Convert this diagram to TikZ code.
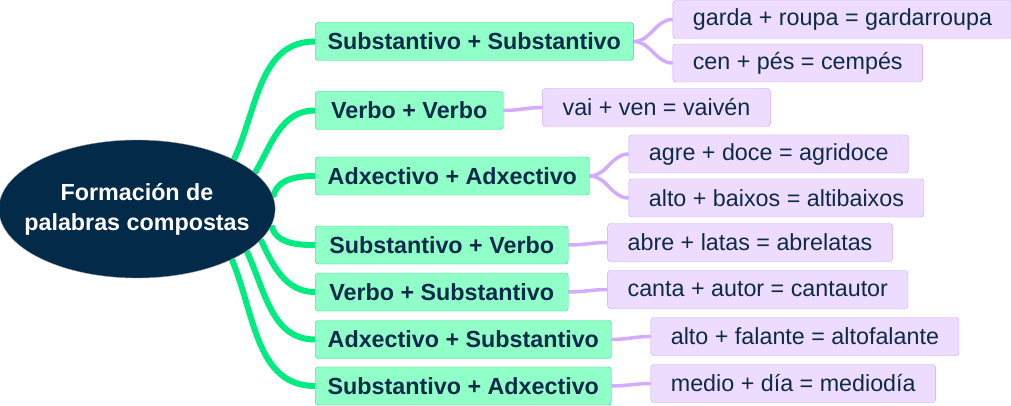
\documentclass[tikz,border=0pt]{standalone}
\usepackage{fontspec}
\setmainfont{Liberation Sans}
\usetikzlibrary{shapes.geometric, positioning, backgrounds}
\definecolor{rootblue}{HTML}{032A49}
\definecolor{inkblue}{HTML}{0D2A4B}
\definecolor{mintfill}{HTML}{90FFC8}
\definecolor{mintedge}{HTML}{22DD88}
\definecolor{mintline}{HTML}{00EC80}
\definecolor{lilacfill}{HTML}{EEDCFF}
\definecolor{lilacedge}{HTML}{CDA3F9}
\definecolor{lilacline}{HTML}{D5ABFF}
\newcommand{\mapfont}{\fontsize{23.3}{30}\selectfont}
\tikzstyle{root} = [ellipse, draw=gray!80, fill=rootblue, text=white,
    font=\mapfont\bfseries, align=center, minimum width=276pt, minimum height=138pt,
    inner xsep=-15pt, inner ysep=0pt]
\tikzstyle{rule} = [rectangle, draw=mintedge, fill=mintfill, rounded corners=3pt,
    text=inkblue, font=\mapfont\bfseries, minimum height=38pt, inner xsep=12.5pt, anchor=west]
\tikzstyle{word} = [rectangle, draw=lilacedge, fill=lilacfill, rounded corners=3pt,
    text=inkblue, font=\mapfont, minimum height=38pt, inner xsep=20pt]
\tikzstyle{branch} = [draw=mintline, line width=6pt]
\tikzstyle{twig} = [draw=lilacline, line width=3.5pt]

\begin{document}
\begin{tikzpicture}[x=1pt, y=1pt, node distance=39pt]
    \useasboundingbox (0,0) rectangle (1011,-406);
    % Nodes
    \node [root] (root) at (137,-209) {Formación de\\palabras compostas};
    \node [rule] (ss) at (315,-41.5) {Substantivo + Substantivo};
    \node [rule, minimum width=188pt] (vv) at (315,-110.5) {Verbo + Verbo};
    \node [rule] (aa) at (315,-176) {Adxectivo + Adxectivo};
    \node [rule, minimum width=253pt] (sv) at (315,-245) {Substantivo + Verbo};
    \node [rule, minimum width=253pt] (vs) at (315,-292) {Verbo + Substantivo};
    \node [rule] (as) at (315,-339.5) {Adxectivo + Substantivo};
    \node [rule] (sa) at (315,-386) {Substantivo + Adxectivo};

    % Examples
    \node [word, right=of ss, yshift=22pt] (garda) {garda + roupa = gardarroupa};
    \node [word, right=of ss, yshift=-21.5pt] (cen) {cen + pés = cempés};
    \node [word, right=of vv, yshift=3pt] (vai) {vai + ven = vaivén};
    \node [word, right=of aa, yshift=22pt] (agre) {agre + doce = agridoce};
    \node [word, right=of aa, yshift=-22pt] (baixos) {alto + baixos = altibaixos};
    \node [word, right=of sv, yshift=2.5pt] (abre) {abre + latas = abrelatas};
    \node [word, right=of vs, yshift=2.5pt] (canta) {canta + autor = cantautor};
    \node [word, right=of as, yshift=3pt] (falante) {alto + falante = altofalante};
    \node [word, right=of sa, yshift=2.5pt] (medio) {medio + día = mediodía};

    % Connectors
    \begin{pgfonlayer}{background}
    \foreach \ang/\out/\dest in {27/65/ss, 17/60/vv, 5/80/aa, -7/-75/sv,
        -14/-65/vs, -21/-65/as, -28/-67/sa}
        \draw [branch] (root.\ang) to[out=\out, in=180] (\dest.west);
    \foreach \src/\dest in {ss/garda, ss/cen, vv/vai, aa/agre, aa/baixos,
        sv/abre, vs/canta, as/falante, sa/medio}
        \draw [twig] (\src.east) to[out=0, in=180] (\dest.west);
    \end{pgfonlayer}
\end{tikzpicture}
\end{document}
